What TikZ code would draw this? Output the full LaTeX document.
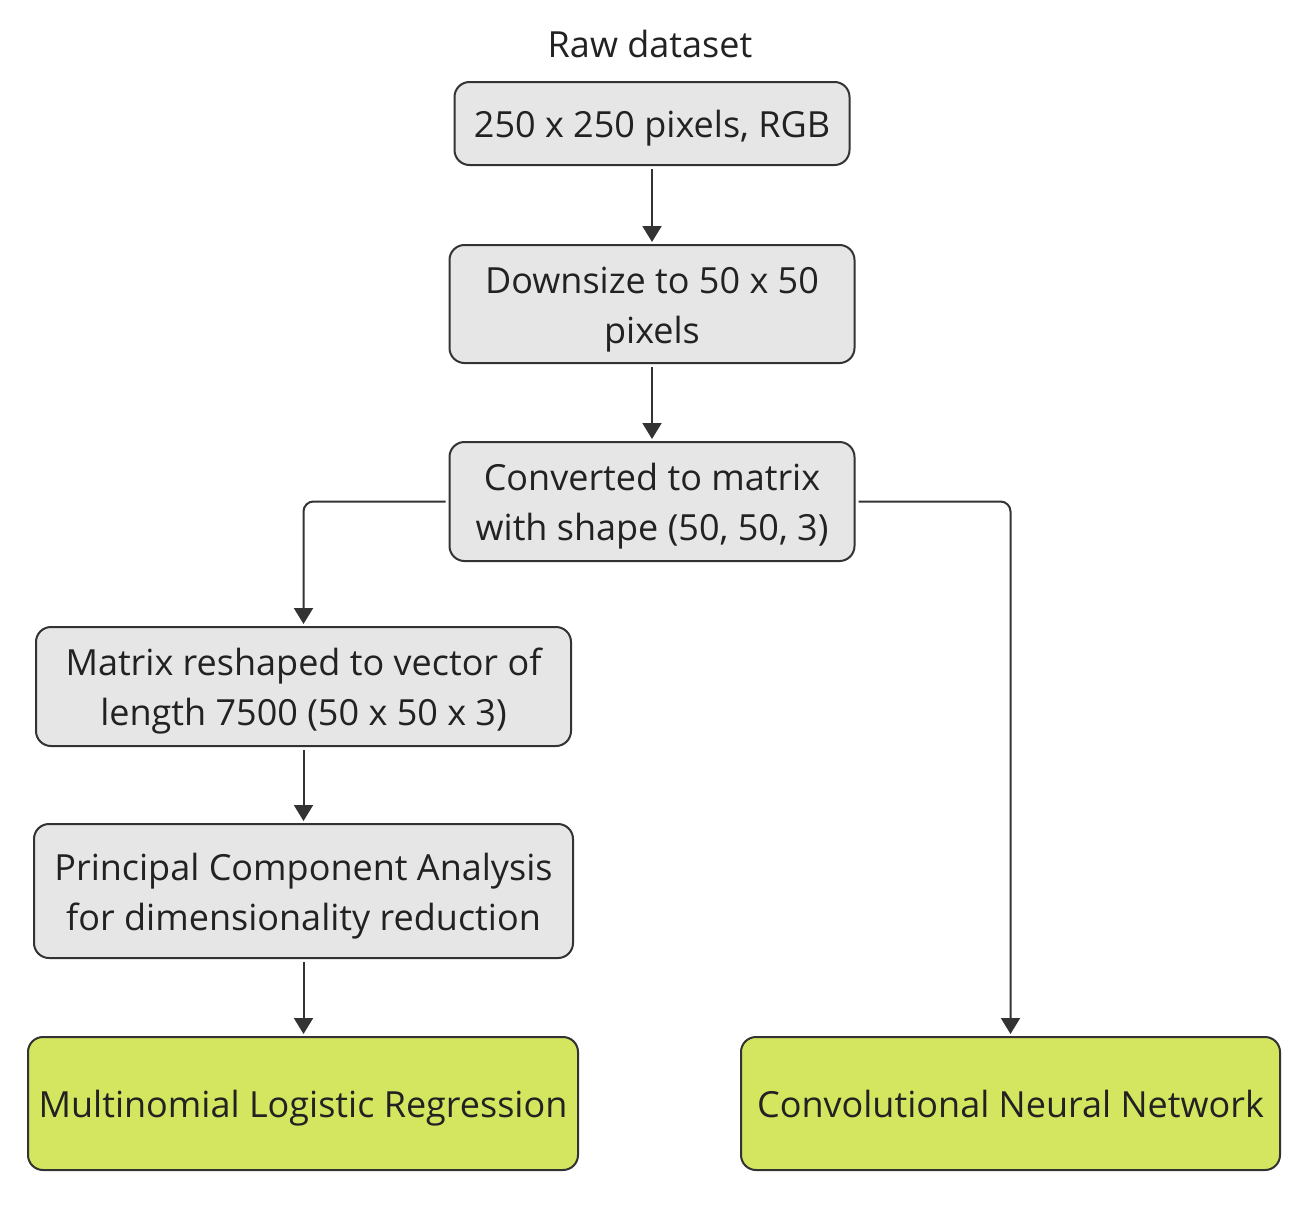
\documentclass[tikz,border=0pt]{standalone}
\usepackage{fontspec}
\setmainfont{Open Sans}
\usetikzlibrary{arrows.meta}
\definecolor{boxgray}{HTML}{E6E6E6}
\definecolor{boxgreen}{HTML}{D4E55F}
\definecolor{edge}{HTML}{333333}
\definecolor{txt}{HTML}{222222}
\newcommand{\lstrut}{\rule[-11pt]{0pt}{50pt}}
\begin{document}
\begin{tikzpicture}[x=1pt,y=-1pt,
  every node/.style={font=\fontsize{36}{50}\selectfont, text=txt},
  box/.style={draw=edge, line width=2pt, rounded corners=15pt, fill=boxgray, align=center, inner sep=0pt},
  final/.style={box, fill=boxgreen},
  conn/.style={draw=edge, line width=2pt, -{Triangle[length=16pt,width=19pt]}, shorten <=3pt, shorten >=2pt, rounded corners=10pt}]
\useasboundingbox (0,0) rectangle (1312,1208);
\node[inner sep=0pt] (title) at (650,43) {\lstrut Raw dataset};
\node[box, minimum width=395pt, minimum height=83pt] (raw) at (652,123.5) {\lstrut 250 x 250 pixels, RGB};
\node[box, minimum width=405pt, minimum height=118pt] (down) at (652,304) {\lstrut Downsize to 50 x 50\\\lstrut pixels};
\node[box, minimum width=405pt, minimum height=119pt] (conv) at (652,501.5) {\lstrut Converted to matrix\\\lstrut with shape (50, 50, 3)};
\node[box, minimum width=535pt, minimum height=119pt] (resh) at (303.5,686.5) {\lstrut Matrix reshaped to vector of\\\lstrut length 7500 (50 x 50 x 3)};
\node[box, minimum width=539pt, minimum height=134pt] (pca) at (303.5,891) {\lstrut Principal Component Analysis\\\lstrut for dimensionality reduction};
\node[final, minimum width=550pt, minimum height=133pt] (mlr) at (303,1103.5) {\lstrut Multinomial Logistic Regression};
\node[final, minimum width=539pt, minimum height=133pt] (cnn) at (1010.5,1103.5) {\lstrut Convolutional Neural Network};
\draw[conn] (raw.south) -- (down.north);
\draw[conn] (down.south) -- (conv.north);
\draw[conn] (conv.west) -| (resh.north);
\draw[conn] (conv.east) -| (cnn.north);
\draw[conn] (resh.south) -- (pca.north);
\draw[conn] (pca.south) -- (pca.south |- mlr.north);
\end{tikzpicture}
\end{document}
